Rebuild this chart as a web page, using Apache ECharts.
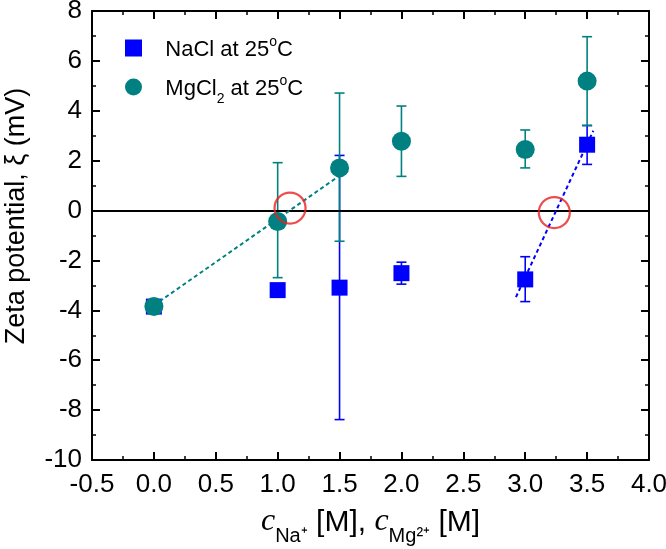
<!DOCTYPE html>
<html>
<head>
<meta charset="utf-8">
<script src="https://cdn.jsdelivr.net/npm/echarts@6/dist/echarts.min.js"></script>
<style>
html,body{margin:0;padding:0;background:#fff;}
#main{width:666px;height:549px;}
</style>
</head>
<body>
<div id="main"></div>
<script>
// 数据
var conc = [0, 1, 1.5, 2, 3, 3.5];
var naclZeta = [-3.85, -3.19, -3.09, -2.51, -2.76, 2.64];
var naclLow = [-3.95, -3.3, -8.38, -2.95, -3.65, 1.85];
var naclHigh = [-3.75, -3.1, 2.21, -2.07, -1.85, 3.41];
var mgZeta = [-3.85, -0.44, 1.71, 2.78, 2.45, 5.19];
var mgLow = [-3.95, -2.69, -1.23, 1.37, 1.71, 3.41];
var mgHigh = [-3.75, 1.92, 4.71, 4.19, 3.23, 6.97];
// 拟合虚线
var mgFitX = [0, 1.5];
var mgFitY = [-3.8, 1.4];
var naFitX = [2.925, 3.55];
var naFitY = [-3.47, 3.2];
// 等电点红圈
var iepX = [1.1, 3.235];
var iepY = [0.1, -0.08];

var blue = '#0000ff';
var teal = '#008080';
var fontFam = 'Liberation Sans, Arial, sans-serif';

function pairs(xs, ys) {
	var out = [];
	for (var i = 0; i < xs.length; i++) {
		out.push([xs[i], ys[i]]);
	}
	return out;
}
function errData(xs, lo, hi) {
	var out = [];
	for (var i = 0; i < xs.length; i++) {
		out.push([xs[i], lo[i], hi[i]]);
	}
	return out;
}
function errRender(color) {
	return function (params, api) {
		var x = api.value(0);
		var p1 = api.coord([x, api.value(1)]);
		var p2 = api.coord([x, api.value(2)]);
		var w = 5;
		var st = { stroke: color, lineWidth: 1.6 };
		return {
			type: 'group',
			children: [
				{ type: 'line', shape: { x1: p1[0], y1: p1[1], x2: p2[0], y2: p2[1] }, style: st },
				{ type: 'line', shape: { x1: p1[0] - w, y1: p1[1], x2: p1[0] + w, y2: p1[1] }, style: st },
				{ type: 'line', shape: { x1: p2[0] - w, y1: p2[1], x2: p2[0] + w, y2: p2[1] }, style: st }
			]
		};
	};
}

var chart = echarts.init(document.getElementById('main'));

var axisCommon = {
	axisLine: { show: true, onZero: false, lineStyle: { color: '#000', width: 2 } },
	axisTick: { show: true, inside: true, length: 8, lineStyle: { color: '#000', width: 2 } },
	minorTick: { show: true, splitNumber: 2, length: 4, lineStyle: { color: '#000', width: 1.5 } },
	splitLine: { show: false }
};

var option = {
	animation: false,
	textStyle: { fontFamily: fontFam },
	grid: { left: 92, right: 17, top: 11, bottom: 89, outerBoundsMode: 'none', containLabel: false },
	graphic: [
		{
			type: 'text',
			x: 17, y: 216,
			rotation: Math.PI / 2,
			style: {
				text: 'Zeta potential, ξ (mV)',
				fill: '#000',
				font: '27px ' + fontFam,
				align: 'center',
				verticalAlign: 'middle'
			}
		}
	],
	legend: {
		left: 120,
		top: 30,
		orient: 'vertical',
		itemWidth: 17,
		itemHeight: 17,
		itemGap: 13,
		data: [
			{ name: 'NaCl', icon: 'rect' },
			{ name: 'MgCl2', icon: 'circle' }
		],
		formatter: function (name) {
			if (name === 'NaCl') return '{t|   NaCl at 25}{s|o}{t|C}';
			return '{t|   MgCl}{b|2}{t| at 25}{s|o}{t|C}';
		},
		textStyle: {
			color: '#000',
			rich: {
				t: { fontSize: 22, fontFamily: fontFam, color: '#000', lineHeight: 26, verticalAlign: 'bottom' },
				s: { fontSize: 14, fontFamily: fontFam, color: '#000', lineHeight: 26, verticalAlign: 'top' },
				b: { fontSize: 14, fontFamily: fontFam, color: '#000', lineHeight: 22, verticalAlign: 'bottom', padding: [0, 0, -6, 0] }
			}
		}
	},
	xAxis: [
		Object.assign({
			type: 'value', min: -0.5, max: 4.0, interval: 0.5, position: 'bottom',
			axisLabel: {
				color: '#000', fontSize: 26, margin: 12, fontFamily: fontFam,
				formatter: function (v) { return v.toFixed(1); }
			},
			name: '{c|c}{sb|Na⁺}{m| [M], }{c|c}{sb|Mg²⁺}{m| [M]}',
			nameLocation: 'middle',
			nameGap: 42,
			nameTextStyle: {
				rich: {
					c: { fontSize: 32, fontStyle: 'italic', fontFamily: 'Liberation Serif, serif', color: '#000', verticalAlign: 'bottom', lineHeight: 36 },
					sb: { fontSize: 20, fontFamily: fontFam, color: '#000', verticalAlign: 'bottom', lineHeight: 28, padding: [0, 0, -8, 0] },
					m: { fontSize: 30, fontFamily: fontFam, color: '#000', verticalAlign: 'bottom', lineHeight: 36 }
				}
			}
		}, axisCommon),
		Object.assign({
			type: 'value', min: -0.5, max: 4.0, interval: 0.5, position: 'top',
			axisLabel: { show: false }
		}, axisCommon)
	],
	yAxis: [
		Object.assign({
			type: 'value', min: -10, max: 8, interval: 2, position: 'left',
			axisLabel: { color: '#000', fontSize: 26, margin: 10, fontFamily: fontFam }
		}, axisCommon),
		Object.assign({
			type: 'value', min: -10, max: 8, interval: 2, position: 'right',
			axisLabel: { show: false }
		}, axisCommon)
	],
	series: [
		{
			name: 'naclErr', type: 'custom', renderItem: errRender(blue),
			data: errData(conc, naclLow, naclHigh), z: 2, silent: true
		},
		{
			name: 'NaCl', type: 'scatter', symbol: 'rect', symbolSize: 16,
			itemStyle: { color: blue, opacity: 1 },
			data: pairs(conc, naclZeta), z: 3,
			markLine: {
				silent: true, symbol: 'none', label: { show: false },
				lineStyle: { color: '#000', type: 'solid', width: 2 },
				data: [{ yAxis: 0 }]
			}
		},
		{
			name: 'mgErr', type: 'custom', renderItem: errRender(teal),
			data: errData(conc, mgLow, mgHigh), z: 4, silent: true
		},
		{
			name: 'MgCl2', type: 'scatter', symbol: 'circle', symbolSize: 19,
			itemStyle: { color: teal, opacity: 1 },
			data: pairs(conc, mgZeta), z: 5
		},
		{
			name: 'mgFit', type: 'line', symbol: 'none',
			lineStyle: { color: teal, type: [4, 3], width: 2 },
			data: pairs(mgFitX, mgFitY), z: 6
		},
		{
			name: 'naFit', type: 'line', symbol: 'none',
			lineStyle: { color: blue, type: [4, 3], width: 2 },
			data: pairs(naFitX, naFitY), z: 6
		},
		{
			name: 'iep', type: 'scatter', symbol: 'circle', symbolSize: 31,
			itemStyle: { color: 'rgba(0,0,0,0)', borderColor: '#e8201f', borderWidth: 2.2 },
			data: pairs(iepX, iepY), z: 7
		}
	]
};
chart.setOption(option);
</script>
</body>
</html>
